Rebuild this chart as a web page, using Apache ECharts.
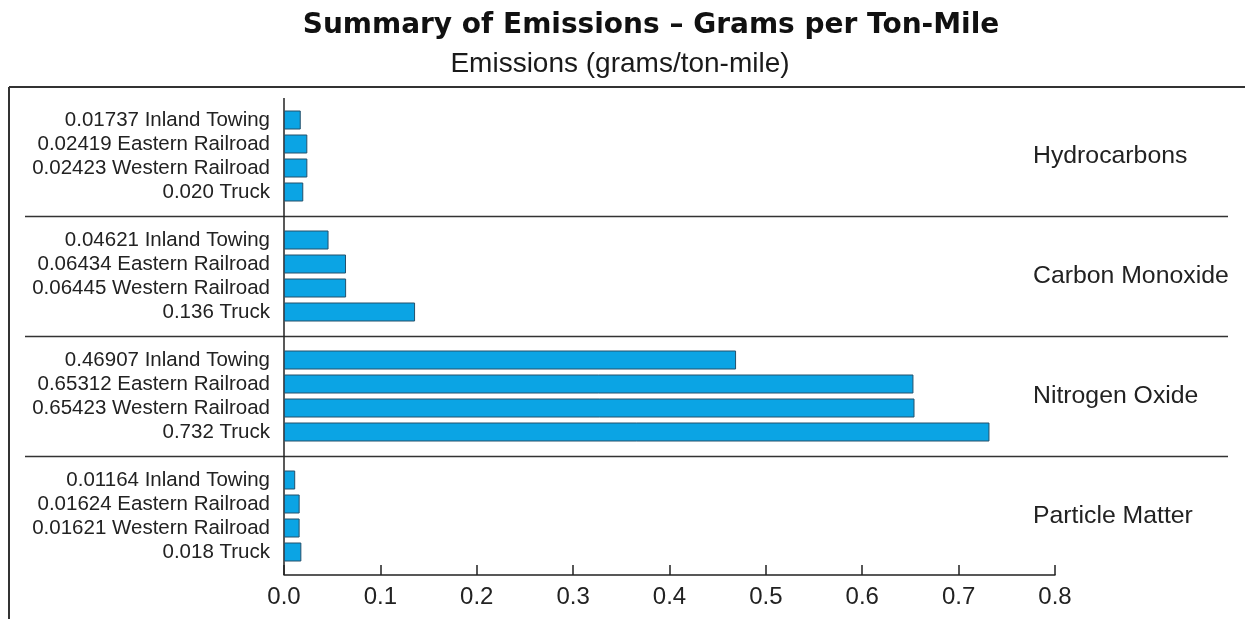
<!DOCTYPE html>
<html>
<head>
<meta charset="utf-8">
<script src="https://cdn.jsdelivr.net/npm/echarts@6/dist/echarts.min.js"></script>
<style>
html,body{margin:0;padding:0;background:#fff;}
#chart{width:1245px;height:619px;}
</style>
</head>
<body>
<div id="chart"></div>
<script>
// ---- data ----
const pollutants = ['Hydrocarbons', 'Carbon Monoxide', 'Nitrogen Oxide', 'Particle Matter'];
const modes = ['Inland Towing', 'Eastern Railroad', 'Western Railroad', 'Truck'];
const hydrocarbons   = [0.01737, 0.02419, 0.02423, 0.020];
const carbonMonoxide = [0.04621, 0.06434, 0.06445, 0.136];
const nitrogenOxide  = [0.46907, 0.65312, 0.65423, 0.732];
const particleMatter = [0.01164, 0.01624, 0.01621, 0.018];
const xTicks = [0.0, 0.1, 0.2, 0.3, 0.4, 0.5, 0.6, 0.7, 0.8];
const titleText = 'Summary of Emissions \u2013 Grams per Ton-Mile';
const subtitleText = 'Emissions (grams/ton-mile)';

// ---- build category axis (groups separated by a spacer row) ----
const groups = [hydrocarbons, carbonMonoxide, nitrogenOxide, particleMatter];
const categories = [];
const values = [];
const groupRows = [];
const spacerRows = [];
groups.forEach((arr, g) => {
  const rows = [];
  arr.forEach((v, i) => {
    const txt = (modes[i] === 'Truck' ? v.toFixed(3) : v.toFixed(5)) + ' ' + modes[i];
    rows.push(categories.length);
    categories.push(txt);
    values.push(v);
  });
  groupRows.push(rows);
  if (g < groups.length - 1) {
    spacerRows.push(categories.length);
    categories.push(' '.repeat(g + 1));
    values.push(null);
  }
});

const chart = echarts.init(document.getElementById('chart'));
const GRID_TOP = 108, ROW = 24;
const gridHeight = categories.length * ROW;
const axisOffset = 11;

chart.setOption({
  animation: false,
  backgroundColor: '#fff',
  title: [
    {
      text: titleText, left: 646, top: 7, textAlign: 'center',
      textStyle: { fontFamily: 'DejaVu Sans', fontWeight: 'bold', fontSize: 28, color: '#111' }
    },
    {
      text: subtitleText, left: 615, top: 45, textAlign: 'center',
      textStyle: { fontFamily: 'Liberation Sans', fontWeight: 'normal', fontSize: 28, color: '#1a1a1a' }
    }
  ],
  grid: { left: 284, right: 190, top: GRID_TOP, height: gridHeight, containLabel: false },
  xAxis: {
    type: 'value', min: 0, max: 0.8, interval: 0.1,
    offset: axisOffset,
    axisLine: { show: true, lineStyle: { color: '#222', width: 1.5 } },
    axisTick: { show: true, inside: true, length: 10, lineStyle: { color: '#222', width: 1.5 } },
    axisLabel: {
      margin: 10, fontFamily: 'Liberation Sans', fontSize: 24, color: '#222',
      formatter: v => xTicks.find(t => Math.abs(t - v) < 1e-9).toFixed(1)
    },
    splitLine: { show: false }
  },
  yAxis: {
    type: 'category', inverse: true, data: categories,
    axisLine: { show: false }, axisTick: { show: false },
    axisLabel: { interval: 0, margin: 14, fontFamily: 'Liberation Sans', fontSize: 20.5, color: '#222' }
  },
  series: [{
    type: 'bar', data: values, barWidth: 19,
    itemStyle: { color: '#0ba4e4', borderColor: '#24506b', borderWidth: 1 }
  }]
});

// ---- decorations positioned from the axes ----
const yOf = i => chart.convertToPixel({ yAxisIndex: 0 }, i);
const x0 = chart.convertToPixel({ xAxisIndex: 0 }, 0);
const axisY = GRID_TOP + gridHeight + axisOffset;
const lineColor = '#333';
const graphics = [];
// frame
graphics.push({ type: 'line', shape: { x1: 9, y1: 87, x2: 1245, y2: 87 }, style: { stroke: lineColor, lineWidth: 2 } });
graphics.push({ type: 'line', shape: { x1: 9, y1: 87, x2: 9, y2: 619 }, style: { stroke: lineColor, lineWidth: 2 } });
// group separators
spacerRows.forEach(r => {
  const y = Math.round(yOf(r)) + 0.5;
  graphics.push({ type: 'line', shape: { x1: 25, y1: y, x2: 1228, y2: y }, style: { stroke: lineColor, lineWidth: 1.6 } });
});
// vertical axis line
graphics.push({ type: 'line', shape: { x1: x0, y1: yOf(0) - 22, x2: x0, y2: axisY }, style: { stroke: '#222', lineWidth: 1.5 } });
// group labels
groupRows.forEach((rows, g) => {
  const y = (yOf(rows[0]) + yOf(rows[rows.length - 1])) / 2;
  graphics.push({
    type: 'text', x: 1033, y: y,
    style: { text: pollutants[g], fontFamily: 'Liberation Sans', fontSize: 24.8, fill: '#222', textAlign: 'left', textVerticalAlign: 'middle' }
  });
});
chart.setOption({ graphic: graphics });
</script>
</body>
</html>
